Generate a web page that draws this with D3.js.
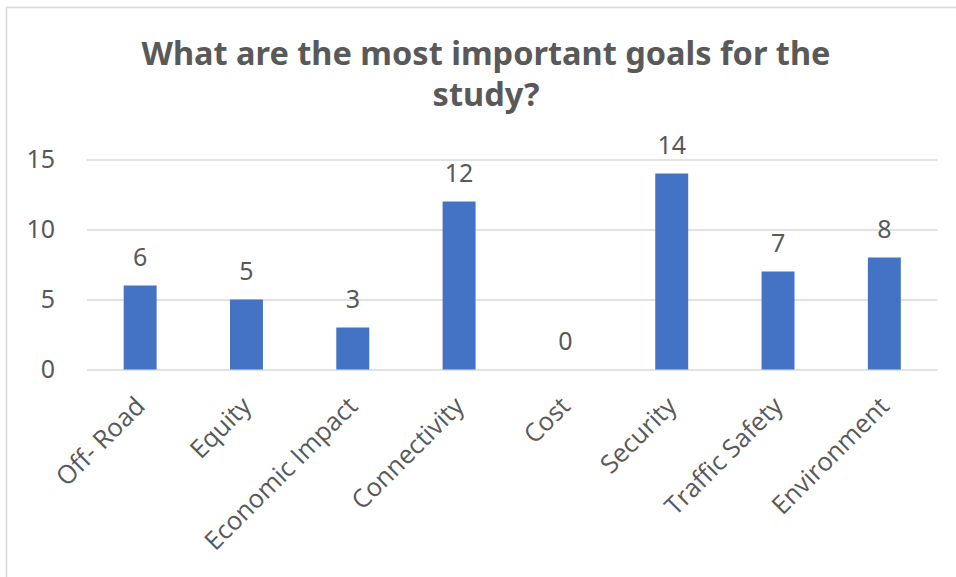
<!DOCTYPE html>
<html>
<head>
<meta charset="utf-8">
<script src="https://cdn.jsdelivr.net/npm/d3@7"></script>
<style>
  html, body { margin: 0; padding: 0; background: #fff; }
  svg { display: block; }
</style>
</head>
<body>
<svg id="chart" width="956" height="577"></svg>
<script>
const titleLines = ["What are the most important goals for the", "study?"];
const categories = ["Off- Road", "Equity", "Economic Impact", "Connectivity", "Cost", "Security", "Traffic Safety", "Environment"];
const values = [6, 5, 3, 12, 0, 14, 7, 8];
const yTicks = [0, 5, 10, 15];

const W = 956, H = 577;
const margin = { left: 87, right: 18.5, top: 159.5, bottom: 207.5 };
const textColor = "#595959";
const fontFamily = "'Noto Sans', 'Open Sans', sans-serif";
const labelFont = "'Open Sans', 'Noto Sans', sans-serif";

const svg = d3.select("#chart");

// outer frame (cropped: only top and left visible)
svg.append("rect")
  .attr("x", 6.5).attr("y", 7.5)
  .attr("width", W + 20).attr("height", H + 20)
  .attr("fill", "#fff")
  .attr("stroke", "#d9d9d9").attr("stroke-width", 1.5);

const x = d3.scaleBand()
  .domain(categories)
  .range([margin.left, W - margin.right])
  .paddingInner(0.69).paddingOuter(0.345);

const y = d3.scaleLinear()
  .domain([0, 15])
  .range([H - margin.bottom, margin.top]);

// gridlines + y labels
const yAxis = d3.axisLeft(y).tickValues(yTicks)
  .tickSize(-(W - margin.right - margin.left)).tickPadding(32);
const gy = svg.append("g")
  .attr("transform", `translate(${margin.left},0)`)
  .call(yAxis);
gy.select(".domain").remove();
gy.selectAll(".tick line").attr("stroke", "#d9d9d9").attr("stroke-width", 1.5);
gy.selectAll(".tick text")
  .attr("fill", textColor)
  .style("font-family", fontFamily)
  .style("font-size", "25px");

// bars
svg.append("g").selectAll("rect")
  .data(values)
  .join("rect")
  .attr("x", (d, i) => x(categories[i]))
  .attr("width", x.bandwidth())
  .attr("y", d => y(d))
  .attr("height", d => y(0) - y(d))
  .attr("fill", "#4472C4");

// data labels
svg.append("g").selectAll("text")
  .data(values)
  .join("text")
  .attr("x", (d, i) => x(categories[i]) + x.bandwidth() / 2)
  .attr("y", d => y(d) - 20)
  .attr("text-anchor", "middle")
  .attr("fill", textColor)
  .style("font-family", fontFamily)
  .style("font-size", "25px")
  .text(d => d);

// category labels (rotated)
const xAxis = d3.axisBottom(x).tickSize(0).tickPadding(0);
const gx = svg.append("g")
  .attr("transform", `translate(0,${y(0)})`)
  .call(xAxis);
gx.select(".domain").remove();
gx.selectAll(".tick text")
  .attr("fill", textColor)
  .style("font-family", labelFont)
  .style("font-size", "25.5px")
  .attr("text-anchor", "end")
  .attr("dy", "0.35em")
  .attr("y", 0)
  .attr("transform", "translate(0,32) rotate(-45)");

// title
svg.append("g").selectAll("text")
  .data(titleLines)
  .join("text")
  .attr("x", 486)
  .attr("y", (d, i) => 65 + i * 41)
  .attr("text-anchor", "middle")
  .attr("fill", textColor)
  .style("font-family", fontFamily)
  .style("font-weight", "bold")
  .style("font-size", "32.5px")
  .text(d => d);
</script>
</body>
</html>
